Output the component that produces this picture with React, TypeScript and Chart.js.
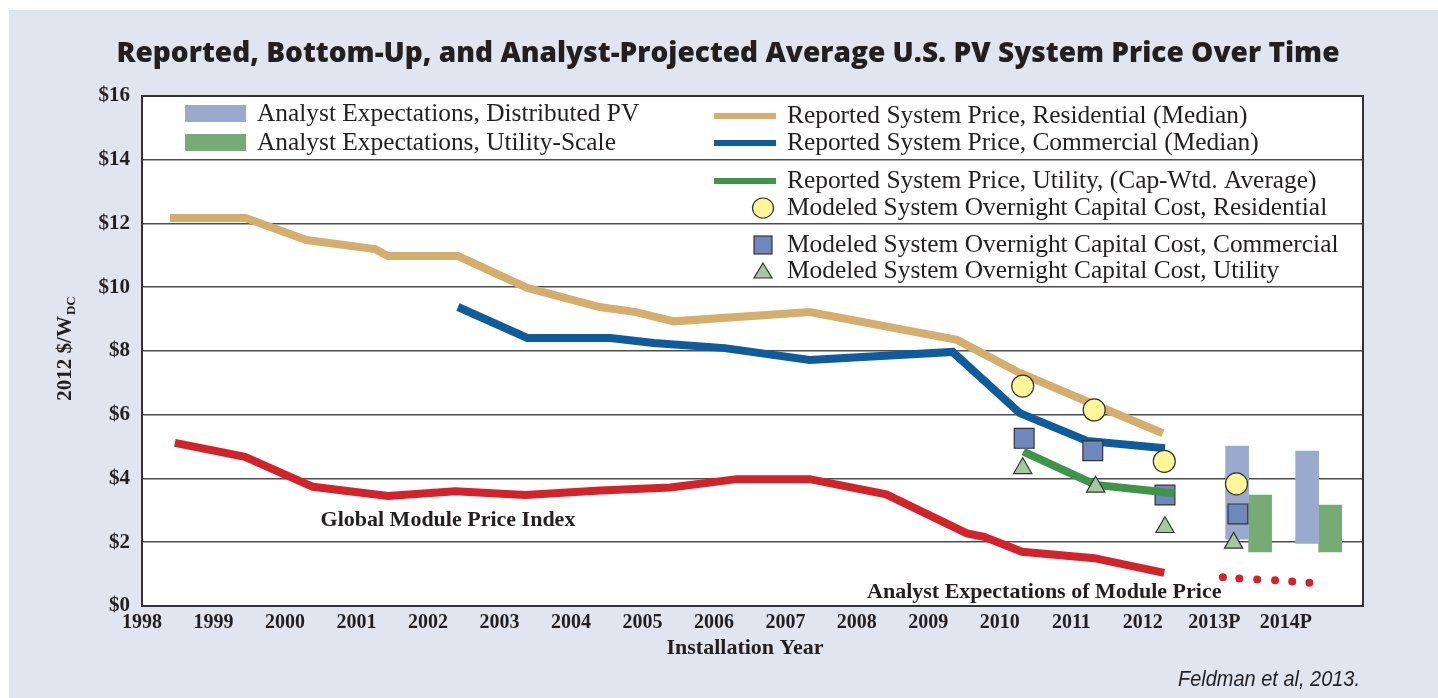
import React, { useEffect, useRef } from 'react';
import { Chart, registerables } from 'chart.js';

Chart.register(...registerables);

// ---------------- texts ----------------
const TITLE = 'Reported, Bottom-Up, and Analyst-Projected Average U.S. PV System Price Over Time';
const X_TITLE = 'Installation Year';
const Y_TITLE_MAIN = '2012 $/W';
const Y_TITLE_SUB = 'DC';
const SOURCE = 'Feldman et al, 2013.';
const MODULE_LABEL = 'Global Module Price Index';
const FORECAST_LABEL = 'Analyst Expectations of Module Price';

// ---------------- axis ticks ----------------
const xTickYears = [1998, 1999, 2000, 2001, 2002, 2003, 2004, 2005, 2006, 2007, 2008, 2009, 2010, 2011, 2012, 2013, 2014];
const xTickLabels = ['1998', '1999', '2000', '2001', '2002', '2003', '2004', '2005', '2006', '2007', '2008', '2009', '2010', '2011', '2012', '2013P', '2014P'];
const yTickPrefix = '$';

// ---------------- series ----------------
const residentialYears = [1998.39, 1999.45, 2000.3, 2001.26, 2001.44, 2002.42, 2003.39, 2004.4, 2004.91, 2005.44, 2007.34, 2009.4, 2010.28, 2011.27, 2012.28];
const residentialPrice = [12.17, 12.17, 11.48, 11.2, 10.98, 10.98, 9.98, 9.38, 9.22, 8.93, 9.22, 8.35, 7.31, 6.37, 5.42];

const commercialYears = [2002.42, 2003.39, 2004.55, 2005.16, 2006.15, 2007.34, 2009.34, 2010.28, 2011.22, 2012.31];
const commercialPrice = [9.38, 8.41, 8.41, 8.25, 8.09, 7.72, 7.97, 6.05, 5.18, 4.95];

const utilityYears = [2010.33, 2011.34, 2012.44];
const utilityPrice = [4.84, 3.8, 3.54];

const moduleYears = [1998.46, 1999.44, 2000.39, 2001.44, 2002.38, 2003.36, 2004.41, 2005.39, 2006.32, 2007.34, 2008.41, 2009.54, 2009.78, 2010.31, 2011.32, 2012.3];
const modulePrice = [5.12, 4.68, 3.74, 3.45, 3.6, 3.48, 3.62, 3.72, 3.98, 3.98, 3.5, 2.28, 2.17, 1.7, 1.5, 1.04];

const moduleForecastYears = [2013.12, 2013.35, 2013.6, 2013.85, 2014.09, 2014.33];
const moduleForecastPrice = [0.9, 0.86, 0.83, 0.81, 0.77, 0.73];

const modeledResYears = [2010.32, 2011.32, 2012.3, 2013.31];
const modeledResCost = [6.9, 6.15, 4.54, 3.83];

const modeledComYears = [2010.34, 2011.3, 2012.31, 2013.33];
const modeledComCost = [5.26, 4.87, 3.48, 2.89];

const modeledUtilYears = [2010.32, 2011.34, 2012.31, 2013.27];
const modeledUtilCost = [4.32, 3.74, 2.47, 1.98];

const analystYears = [2013.48, 2014.46];
const analystDistributedLow = [2.1, 1.96];
const analystDistributedHigh = [5.02, 4.86];
const analystUtilityLow = [1.7, 1.7];
const analystUtilityHigh = [3.48, 3.17];

// annotation anchors (in data units)
const moduleLabelAt = { x: 2002.28, y: 2.7 };
const forecastLabelAt = { x: 2013.1, y: 0.44 };

// ---------------- styles ----------------
const PANEL = '#e0e5f0';
const INK = '#231f20';
const TAN = '#d5ae6d';
const BLUE = '#0e5c9b';
const RED = '#d2232a';
const GREEN = '#3e9549';
const BAR_BLUE = '#9aa9cd';
const BAR_GREEN = '#77ab76';
const CIRCLE = '#fff599';
const SQUARE = '#6f88bb';
const TRIANGLE = '#a7c7a2';
const SERIF = "'Liberation Serif', 'Times New Roman', serif";
const SANS = "'Open Sans', 'Noto Sans', 'Liberation Sans', sans-serif";

const pts = (xs: number[], ys: number[]) => xs.map((x, i) => ({ x, y: ys[i] }));
const ranges = (xs: number[], lo: number[], hi: number[]) => xs.map((x, i) => ({ x, y: [lo[i], hi[i]] }));

function fitText(ctx: CanvasRenderingContext2D, text: string, x: number, y: number, width: number, align: CanvasTextAlign) {
  const w = ctx.measureText(text).width;
  const s = width / w;
  ctx.save();
  ctx.translate(x, y);
  ctx.scale(s, 1);
  ctx.textAlign = align;
  ctx.fillText(text, 0, 0);
  ctx.restore();
}

const decor = {
  id: 'decor',
  beforeDraw(chart: any) {
    const { ctx, chartArea: a } = chart;
    ctx.save();
    ctx.fillStyle = '#ffffff';
    ctx.fillRect(0, 0, chart.width, chart.height);
    ctx.fillStyle = PANEL;
    ctx.fillRect(9, 10, chart.width - 9, chart.height - 10);
    ctx.fillStyle = '#ffffff';
    ctx.fillRect(a.left, a.top, a.right - a.left, a.bottom - a.top);
    ctx.restore();
  },
  afterDraw(chart: any) {
    const { ctx, chartArea: a, scales } = chart;
    const ds = chart.data.datasets;
    ctx.save();
    // frame
    ctx.strokeStyle = '#333333';
    ctx.lineWidth = 2;
    ctx.strokeRect(a.left, a.top, a.right - a.left, a.bottom - a.top);

    // title
    ctx.fillStyle = INK;
    ctx.font = `800 28px ${SANS}`;
    ctx.textBaseline = 'alphabetic';
    fitText(ctx, TITLE, 728, 62, 1223, 'center');

    // y title with subscript
    ctx.save();
    ctx.translate(64, 349);
    ctx.rotate(-Math.PI / 2);
    ctx.font = `bold 21px ${SERIF}`;
    const w1 = ctx.measureText(Y_TITLE_MAIN).width;
    ctx.font = `bold 13px ${SERIF}`;
    const w2 = ctx.measureText(Y_TITLE_SUB).width;
    const start = -(w1 + w2) / 2;
    ctx.textAlign = 'left';
    ctx.textBaseline = 'alphabetic';
    ctx.font = `bold 21px ${SERIF}`;
    ctx.fillText(Y_TITLE_MAIN, start, 7);
    ctx.font = `bold 13px ${SERIF}`;
    ctx.fillText(Y_TITLE_SUB, start + w1 + 1, 11);
    ctx.restore();

    // x title
    ctx.font = `bold 22px ${SERIF}`;
    ctx.textAlign = 'center';
    ctx.textBaseline = 'middle';
    ctx.fillText(X_TITLE, 745, 648);

    // annotations
    ctx.font = `bold 22px ${SERIF}`;
    ctx.textAlign = 'center';
    ctx.fillText(MODULE_LABEL, scales.x.getPixelForValue(moduleLabelAt.x), scales.y.getPixelForValue(moduleLabelAt.y));
    ctx.textAlign = 'right';
    ctx.fillText(FORECAST_LABEL, scales.x.getPixelForValue(forecastLabelAt.x), scales.y.getPixelForValue(forecastLabelAt.y));

    // source
    ctx.font = `italic 22px 'Liberation Sans', sans-serif`;
    ctx.textBaseline = 'alphabetic';
    fitText(ctx, SOURCE, 1360, 686, 182, 'right');

    // legend
    ctx.font = `25.4px ${SERIF}`;
    ctx.textAlign = 'left';
    ctx.textBaseline = 'middle';
    const leftItems = [
      { d: ds[0], y: 114 },
      { d: ds[1], y: 143 },
    ];
    leftItems.forEach((it) => {
      ctx.fillStyle = it.d.backgroundColor;
      ctx.fillRect(185, it.y - 9, 61, 17);
      ctx.fillStyle = INK;
      ctx.fillText(it.d.label, 257, it.y);
    });
    const rightItems = [
      { d: ds[2], y: 116, kind: 'line' },
      { d: ds[3], y: 143, kind: 'line' },
      { d: ds[4], y: 181, kind: 'line' },
      { d: ds[5], y: 208, kind: 'circle' },
      { d: ds[6], y: 245, kind: 'rect' },
      { d: ds[7], y: 271, kind: 'triangle' },
    ];
    rightItems.forEach((it) => {
      const cx = 763;
      ctx.lineWidth = 1.2;
      ctx.strokeStyle = '#333333';
      if (it.kind === 'line') {
        ctx.fillStyle = it.d.borderColor;
        ctx.fillRect(714, it.y - 3, 62, 6);
      } else if (it.kind === 'circle') {
        ctx.fillStyle = it.d.backgroundColor;
        ctx.beginPath();
        ctx.ellipse(cx, it.y, 10.5, 10, 0, 0, Math.PI * 2);
        ctx.fill();
        ctx.stroke();
      } else if (it.kind === 'rect') {
        ctx.fillStyle = it.d.backgroundColor;
        ctx.fillRect(cx - 9, it.y - 9, 18, 18);
        ctx.strokeRect(cx - 9, it.y - 9, 18, 18);
      } else {
        ctx.fillStyle = it.d.backgroundColor;
        ctx.beginPath();
        ctx.moveTo(cx, it.y - 8);
        ctx.lineTo(cx + 9, it.y + 7);
        ctx.lineTo(cx - 9, it.y + 7);
        ctx.closePath();
        ctx.fill();
        ctx.stroke();
      }
      ctx.fillStyle = INK;
      ctx.fillText(it.d.label, 787, it.y);
    });
    ctx.restore();
  },
};

export default function App() {
  const ref = useRef<HTMLCanvasElement | null>(null);
  useEffect(() => {
    if (!ref.current) return;
    const lineDs = (label: string, xs: number[], ys: number[], color: string, order: number) => ({
      type: 'line' as const,
      label,
      data: pts(xs, ys),
      borderColor: color,
      backgroundColor: color,
      borderWidth: 8,
      pointRadius: 0,
      fill: false,
      tension: 0,
      borderCapStyle: 'butt' as const,
      borderJoinStyle: 'miter' as const,
      order,
    });
    const markerDs = (label: string, xs: number[], ys: number[], fill: string, style: string, radius: number, order: number) => ({
      type: 'line' as const,
      label,
      data: pts(xs, ys),
      showLine: false,
      backgroundColor: fill,
      borderColor: '#333333',
      pointBackgroundColor: fill,
      pointBorderColor: '#333333',
      pointBorderWidth: 1.2,
      pointStyle: style,
      pointRadius: radius,
      order,
    });
    const chart = new Chart(ref.current, {
      type: 'line',
      data: {
        datasets: [
          {
            type: 'bar',
            label: 'Analyst Expectations, Distributed PV',
            data: ranges(analystYears, analystDistributedLow, analystDistributedHigh) as any,
            backgroundColor: BAR_BLUE,
            borderWidth: 0,
            barThickness: 23,
            order: 10,
          },
          {
            type: 'bar',
            label: 'Analyst Expectations, Utility-Scale',
            data: ranges(analystYears, analystUtilityLow, analystUtilityHigh) as any,
            backgroundColor: BAR_GREEN,
            borderWidth: 0,
            barThickness: 23,
            order: 10,
          },
          lineDs('Reported System Price, Residential (Median)', residentialYears, residentialPrice, TAN, 6),
          lineDs('Reported System Price, Commercial (Median)', commercialYears, commercialPrice, BLUE, 6),
          lineDs('Reported System Price, Utility, (Cap-Wtd. Average)', utilityYears, utilityPrice, GREEN, 3),
          markerDs('Modeled System Overnight Capital Cost, Residential', modeledResYears, modeledResCost, CIRCLE, 'circle', 11, 4),
          markerDs('Modeled System Overnight Capital Cost, Commercial', modeledComYears, modeledComCost, SQUARE, 'rect', 14, 4),
          markerDs('Modeled System Overnight Capital Cost, Utility', modeledUtilYears, modeledUtilCost, TRIANGLE, 'triangle', 10.5, 2),
          lineDs(MODULE_LABEL, moduleYears, modulePrice, RED, 6),
          {
            type: 'line',
            label: FORECAST_LABEL,
            data: pts(moduleForecastYears, moduleForecastPrice),
            showLine: false,
            backgroundColor: RED,
            borderColor: RED,
            pointBackgroundColor: RED,
            pointBorderWidth: 0,
            pointRadius: 4,
            pointStyle: 'circle',
            order: 6,
          },
        ] as any,
      },
      options: {
        responsive: false,
        animation: false,
        events: [],
        devicePixelRatio: 1,
        layout: { padding: { left: 72, top: 96, right: 75, bottom: 52 } },
        plugins: {
          legend: { display: false },
          tooltip: { enabled: false },
          title: { display: false },
        },
        scales: {
          x: {
            type: 'linear',
            min: 1998,
            max: 2015.08,
            offset: false,
            grid: { display: false, offset: false, drawTicks: false },
            border: { display: true, color: '#333333', width: 2 },
            afterFit: (s: any) => { s.height = 40; },
            ticks: {
              stepSize: 1,
              includeBounds: false,
              autoSkip: false,
              maxRotation: 0,
              minRotation: 0,
              padding: 5,
              color: INK,
              font: { family: SERIF, size: 20, weight: 'bold' },
              callback: (v: any) => {
                const i = xTickYears.indexOf(Math.round(Number(v)));
                return i >= 0 && Math.abs(Number(v) - xTickYears[i]) < 1e-6 ? xTickLabels[i] : '';
              },
            },
          },
          y: {
            type: 'linear',
            min: 0,
            max: 16,
            grid: { color: '#4d4d4d', lineWidth: 1.6, drawTicks: false },
            border: { display: true, color: '#333333', width: 2 },
            afterFit: (s: any) => { s.width = 70; },
            ticks: {
              stepSize: 2,
              padding: 12,
              color: INK,
              font: { family: SERIF, size: 21, weight: 'bold' },
              callback: (v: any) => yTickPrefix + v,
            },
          },
        },
      } as any,
      plugins: [decor],
    });
    return () => chart.destroy();
  }, []);

  return (
    <div style={{ position: 'fixed', left: 0, top: 0, width: 1438, height: 698, background: '#ffffff' }}>
      <canvas ref={ref} width={1438} height={698} style={{ display: 'block', width: 1438, height: 698 }} />
    </div>
  );
}
